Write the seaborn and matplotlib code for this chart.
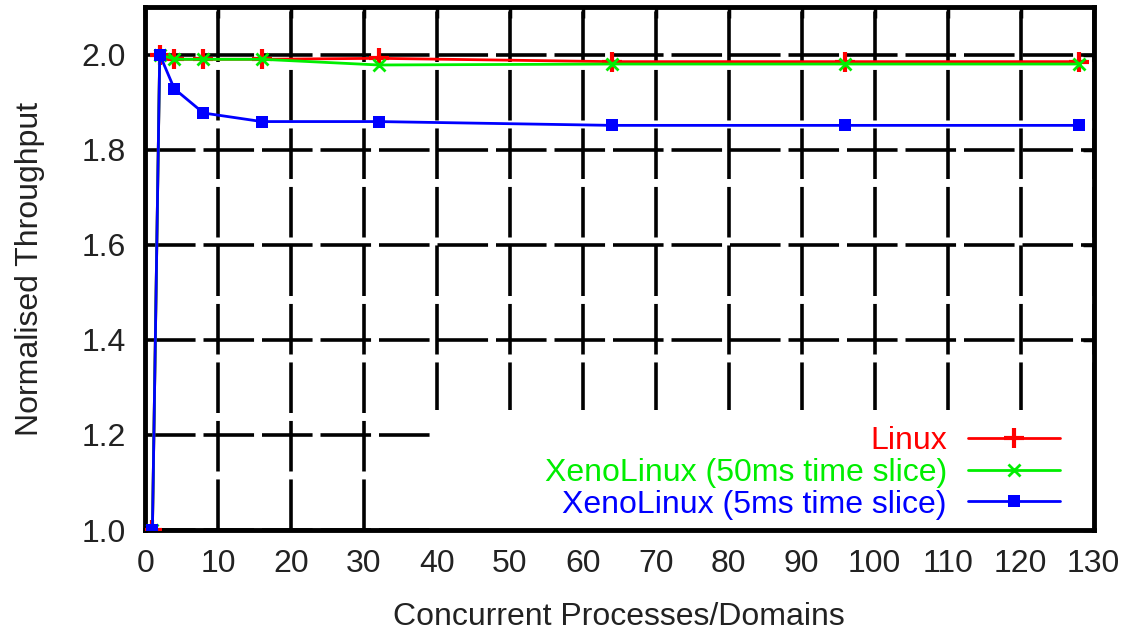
import matplotlib
matplotlib.use("Agg")
import matplotlib.pyplot as plt
import matplotlib.patches as mpatches
from matplotlib.ticker import FormatStrFormatter
import seaborn as sns
import numpy as np

# ---- data ----
procs = [1, 2, 4, 8, 16, 32, 64, 96, 128]
linux = [1.0, 2.0, 1.99, 1.99, 1.99, 1.992, 1.985, 1.985, 1.985]
xeno_50ms = [1.0, 2.0, 1.99, 1.99, 1.99, 1.978, 1.98, 1.98, 1.98]
xeno_5ms = [1.0, 2.0, 1.928, 1.877, 1.859, 1.859, 1.851, 1.851, 1.851]
series_labels = ["Linux", "XenoLinux (50ms time slice)", "XenoLinux (5ms time slice)"]
x_ticks = list(range(0, 131, 10))
y_ticks = [1.0, 1.2, 1.4, 1.6, 1.8, 2.0]
x_label = "Concurrent Processes/Domains"
y_label = "Normalised Throughput"

sns.set_style("white")
plt.rcParams["font.family"] = ["Liberation Sans", "DejaVu Sans"]

fig = plt.figure(figsize=(11.25, 6.34), dpi=100)
ax = fig.add_axes([0.129, 0.164, 0.843, 0.825])

FS = 23
RED, GREEN, BLUE = "#ff0000", "#00ee00", "#0000ff"
sns.lineplot(x=procs, y=linux, ax=ax, color=RED, lw=2, marker="+",
             markersize=14, markeredgewidth=3, markeredgecolor=RED,
             label=series_labels[0], zorder=3)
sns.lineplot(x=procs, y=xeno_50ms, ax=ax, color=GREEN, lw=2, marker="x",
             markersize=8, markeredgewidth=2, markeredgecolor=GREEN,
             label=series_labels[1], zorder=4)
sns.lineplot(x=procs, y=xeno_5ms, ax=ax, color=BLUE, lw=2, marker="s",
             markersize=8, markeredgewidth=0, markeredgecolor=BLUE,
             markerfacecolor=BLUE, label=series_labels[2], zorder=5)

ax.set_xlim(0, 130)
ax.set_ylim(1.0, 2.1)
ax.set_xticks(x_ticks)
ax.set_yticks(y_ticks)
ax.yaxis.set_major_formatter(FormatStrFormatter("%.1f"))

ax.set_axisbelow(True)
ax.grid(True, color="black", lw=2.6, linestyle=(0, (14, 2.2)))
ax.tick_params(direction="in", length=8, width=2.5, top=True, right=True,
               labelsize=FS, pad=14, colors="black", labelcolor="#222222")
for s in ax.spines.values():
    s.set_visible(True)
    s.set_color("black")
    s.set_linewidth(3.5)

ax.set_xlabel(x_label, fontsize=FS, labelpad=16, color="#222222")
ax.set_ylabel(y_label, fontsize=FS, labelpad=26, color="#222222")

# white key background like gnuplot
bg = mpatches.Rectangle((0.30, 0.0), 0.70, 0.23, transform=ax.transAxes,
                        facecolor="white", edgecolor="none", zorder=1)
ax.add_patch(bg)

leg = ax.legend(loc="lower right", bbox_to_anchor=(0.965, 0.02),
                markerfirst=False, frameon=False, fontsize=FS,
                labelcolor="linecolor", handlelength=2.9, handletextpad=0.65,
                labelspacing=0.05, borderpad=0, borderaxespad=0)
leg.set_zorder(6)

fig.savefig("out.png", dpi=100)
